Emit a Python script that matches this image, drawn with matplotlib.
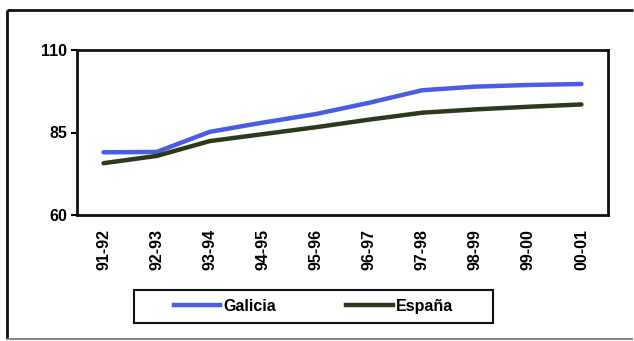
import matplotlib.pyplot as plt
from matplotlib.lines import Line2D
from matplotlib.patches import Rectangle

# ── data ────
periods = ["91-92", "92-93", "93-94", "94-95", "95-96",
           "96-97", "97-98", "98-99", "99-00", "00-01"]
galicia = [79.0, 79.1, 85.2, 88.0, 90.6, 94.0, 97.8, 98.9, 99.4, 99.7]
espana  = [75.7, 77.9, 82.4, 84.5, 86.6, 88.9, 91.0, 92.0, 92.8, 93.5]

BLUE  = "#4a5ce4"
OLIVE = "#2b3a1c"
FS = 11.5

plt.rcParams["font.family"] = ["Liberation Sans", "DejaVu Sans"]
plt.rcParams["font.weight"] = "bold"

W, H = 634, 341
fig = plt.figure(figsize=(W / 100, H / 100), dpi=100)
ax = fig.add_axes([77 / W, 1 - 215 / H, (608 - 77) / W, (215 - 50) / H])

x = range(len(periods))
ax.plot(x, galicia, color=BLUE, linewidth=3.2, solid_capstyle="round", label="Galicia")
ax.plot(x, espana, color=OLIVE, linewidth=3.2, solid_capstyle="round", label="España")

ax.set_xlim(-0.5, len(periods) - 0.5)
ax.set_ylim(60, 110)
ax.set_yticks([60, 85, 110])
ax.set_xticks(list(x))
ax.set_xticklabels(periods, rotation=90, fontsize=FS, fontweight="bold")
ax.tick_params(axis="x", length=0, pad=10)
ax.tick_params(axis="y", length=4, width=1.5, pad=3, labelsize=FS)
for t in ax.get_yticklabels():
    t.set_fontweight("bold")
for spine in ax.spines.values():
    spine.set_linewidth(2)
    spine.set_edgecolor("#111111")

# legend, frame drawn by hand
fig.legend(handles=[Line2D([], [], color=BLUE, lw=3.2), Line2D([], [], color=OLIVE, lw=3.2)],
           labels=["Galicia", "España"], loc="center",
           bbox_to_anchor=(313.5 / W, 1 - 306.5 / H), ncol=2, frameon=False,
           handlelength=2.9, handletextpad=0.2, columnspacing=4.4,
           prop={"weight": "bold", "size": FS})
fig.add_artist(Rectangle((134 / W, 1 - 323 / H), (493 - 134) / W, 33 / H,
                         transform=fig.transFigure, fill=False,
                         edgecolor="#111111", linewidth=1.5))

# outer frame
fig.add_artist(Line2D([7 / W, 0.999], [1 - 10 / H, 1 - 10 / H], transform=fig.transFigure,
                      color="#111111", linewidth=2, solid_capstyle="butt"))
fig.add_artist(Line2D([7 / W, 7 / W], [1 - 10 / H, 1 - 339 / H], transform=fig.transFigure,
                      color="#111111", linewidth=2, solid_capstyle="butt"))
fig.add_artist(Line2D([7 / W, 0.999], [1 - 339 / H, 1 - 339 / H], transform=fig.transFigure,
                      color="#888888", linewidth=1.5, solid_capstyle="butt"))

fig.savefig("out.png", dpi=100)
